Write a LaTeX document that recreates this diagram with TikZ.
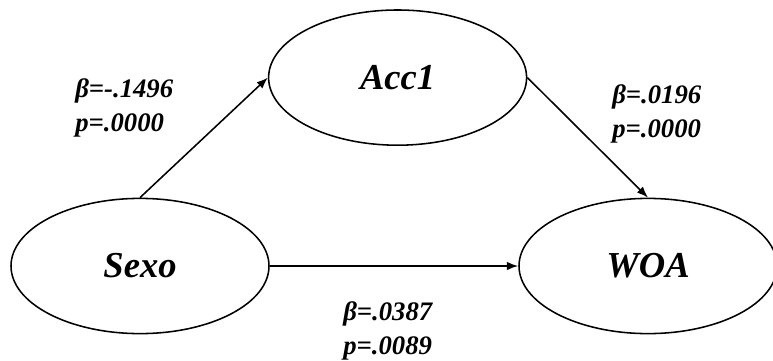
\documentclass[tikz,border=0pt]{standalone}
\usepackage{fontspec}
\setmainfont{Liberation Serif}
\usetikzlibrary{arrows.meta,shapes.geometric}

\begin{document}
\begin{tikzpicture}[
		latent/.style={draw, ellipse, line width=1.1pt, minimum width=6.45cm, minimum height=3.38cm, inner sep=0pt, font=\fontsize{26}{30}\selectfont\bfseries\itshape},
		coef/.style={anchor=west, align=left, inner sep=0pt, font=\fontsize{19}{24}\selectfont\bfseries\itshape},
		path/.style={line width=1.1pt, -{Latex[length=8pt, width=6pt]}}
	]
			%%%%% START %%%%%
			
			\useasboundingbox (0, 0) rectangle (19.325, 9);
			
			\node[latent] (acc) at (9.94, 7.06) {Acc1};
			\node[latent] (sexo) at (3.5, 2.35) {Sexo};
			\node[latent] (woa) at (16.2, 2.35) {WOA};
			
			\draw[path] (sexo.north) -- (acc.west);
			\draw[path] (acc.east) -- (woa.north);
			\draw[path] (sexo.east) -- (woa.west);
			
			\node[coef] (c1) at (1.875, 6.3) {β=-.1496\\p=.0000};
			\node[coef] (c2) at (15.3, 6.16) {β=.0196\\p=.0000};
			\node[coef] (c3) at (8.575, 0.72) {β=.0387\\p=.0089};
			
			%%%%% END %%%%%
		\end{tikzpicture}
\end{document}
